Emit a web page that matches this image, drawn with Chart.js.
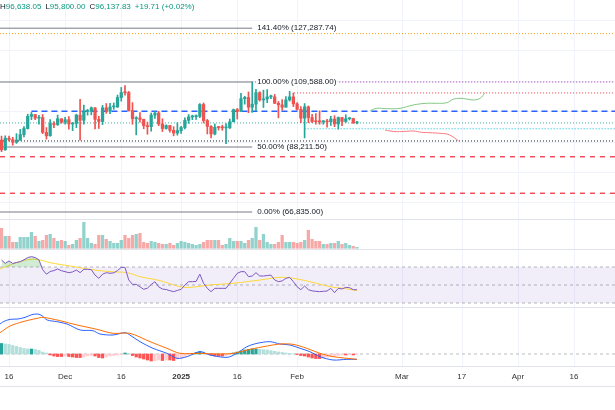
<!DOCTYPE html>
<html><head><meta charset="utf-8">
<script src="https://cdn.jsdelivr.net/npm/chart.js@4.4.1/dist/chart.umd.min.js"></script>
<style>
html,body{margin:0;padding:0;background:#fff;}
#wrap{position:relative;width:615px;height:410px;overflow:hidden;font-family:"Liberation Sans",Arial,sans-serif;background:#fff;}
canvas{position:absolute;left:0;}
.sep{position:absolute;left:0;width:615px;height:1px;background:#e0e3eb;}
#hdr{position:absolute;left:0;top:2px;font-size:8px;line-height:10px;white-space:nowrap;color:#089981;}
#hdr span{margin-right:4px;}
#hdr b{font-weight:normal;color:#131722;}
</style></head><body>
<div id="wrap">
<canvas id="cPrice" width="615" height="219" style="top:0px"></canvas>
<canvas id="cVol" width="615" height="30" style="top:219px"></canvas>
<canvas id="cRsi" width="615" height="58" style="top:249px"></canvas>
<canvas id="cMacd" width="615" height="59" style="top:307px"></canvas>
<div class="sep" style="top:219px"></div>
<div class="sep" style="top:249px"></div>
<div class="sep" style="top:307px"></div>
<div class="sep" style="top:366px"></div>
<div class="sep" style="top:386px"></div>
<canvas id="cAxis" width="615" height="24" style="top:372px"></canvas>
<div id="hdr"></div>
</div>
<script>
// ---------- DATA ----------
// day index: 0 = 16 Nov 2024; first candle = 14 Nov 2024
const startDay = -2;
const opens  = [90500,87300,91100,90600,89800,90500,92300,94300,98300,98900,97700,97900,93000,91900,95900,95600,97500,96400,97200,95800,96000,98700,97000,99900,99900,101100,97300,96600,101100,100000,101400,101400,104500,106100,106100,100200,97500,97800,97300,95200,94900,98700,99400,95800,94300,95300,93700,92800,93600,94600,97000,98100,98200,98300,102200,96900,95000,92500,94700,94600,94500,94500,96500,100500,99900,104100,104500,101300,102300,106100,103700,104000,104700,104700,102600,102100,101300,103700,104700,102400,100600,97700,101400,97900,96600,96600,96500,96500,96500,97400,95800,97900,96600,97500,97600,96118];
const highs  = [91800,91900,91800,91400,92600,94000,94900,99000,99600,98900,98600,98900,94600,97200,96600,98700,97500,98000,98200,96300,99000,103900,102000,100600,101400,101200,98300,101900,102500,102600,102700,105300,107800,108400,106500,102800,98200,99500,97400,96400,99400,99900,99900,97500,95500,95300,94900,96200,95000,97800,98900,98700,98800,102500,102700,97300,95300,95800,95000,95400,95900,97400,100700,100900,105900,104900,106300,109588,107200,106400,106900,107100,105300,105500,103200,103800,104800,106500,106000,102800,101500,102500,101700,99000,99200,100100,96900,97300,98300,98500,98100,98000,98800,97900,97700,96638];
const lows   = [86700,87100,90100,88800,89400,90400,91500,94100,97200,97200,95700,92600,90800,91800,94600,95300,96000,95700,94100,93600,94600,90500,95700,98700,98800,94200,94300,95600,99300,99200,100600,101200,103300,105300,100000,95700,92200,96400,94200,92400,93400,97600,95200,93300,94100,93100,91900,92100,92700,94200,96000,97200,97300,97900,96100,92500,91200,92200,93800,93700,89300,94300,96500,97400,99900,102300,99500,99600,100100,103300,101200,102800,104100,102500,97800,100300,101300,103300,101500,100300,96200,91200,96200,96200,95700,95700,95700,94700,95300,94900,94100,95200,96300,97100,96000,95800];
const closes = [87300,91100,90600,89800,90500,92300,94300,98300,98900,97700,97900,93000,91900,95900,95600,97500,96400,97200,95800,96000,98700,97000,99900,99950,101100,97300,96600,101100,100000,101400,101450,104500,106100,106050,100200,97500,97800,97300,95200,94900,98700,99400,95800,94300,95300,93700,92800,93600,94600,97000,98100,98200,98300,102200,96900,95000,92500,94700,94600,94500,94550,96500,100500,99900,104100,104500,101300,102300,106100,103700,104000,104700,104750,102600,102100,101300,103700,104700,102400,100600,97700,101400,97900,96600,96500,96500,96550,96450,97400,95800,97900,96600,97500,97600,96100,96137.83];
const volumes = [20,12,12,6,6,11,11,11,16,12,7,8,13,14,10,7,8,7,3,4,8,10,26,10,5,4,13,13,9,7,5,5,8,13,10,13,14,15,6,5,7,6,5,4,4,5,3,5,7,6,5,4,3,4,6,8,8,8,8,3,4,10,7,7,7,5,8,10,21,8,14,6,4,4,6,13,6,6,6,5,6,8,18,9,7,7,4,4,5,5,7,4,5,3,2,1];

// Fibonacci retracement (anchored on the 20 Jan high)
const fibPercents = [141.4, 100, 50, 0];
const fibPrices   = [127287.74, 109588.00, 88211.50, 66835.00];
const fibEndDay   = 65;

// horizontal levels
const levelPrices    = [125500, 109588, 106000, 100000, 96137.83, 94200, 90200, 85000, 73000];
const levelStartDays = [-2.41, 65, 76.2, 6, -2.41, 79, -2.41, -2.41, -2.41];

// projection paths
const upPathDays    = [96.5, 98.3, 100.9, 104.5, 108.0, 111.6, 114.3, 117.0, 118.7, 120.5, 122.3, 124.1, 125.9, 127.2];
const upPathPrices  = [100150, 100940, 100810, 100940, 102030, 102590, 102590, 102780, 103900, 104230, 104000, 103670, 104230, 106070];
const downPathDays  = [100.5, 101.8, 103.6, 106.3, 108.0, 110.3, 112.5, 115.2, 117.0, 118.3, 119.2, 120.1];
const downPathPrices= [93800, 93480, 93250, 93380, 93480, 93050, 92920, 92720, 92490, 91830, 91080, 90290];

// RSI (per candle) and its moving average
const rsi = [77.8,74,76.7,74,75,76,78,80.5,81.5,80.5,78,67,62,65,66,67.8,65.9,64.8,63.7,64.5,66.7,63.7,67.4,67.4,67,61,57.4,62,63.7,63,63.5,66,69.6,69.6,55.6,50.7,50.7,48,45.2,46.5,50.5,53.7,48,45.5,45,43.7,42.6,44,45.2,50,53.7,53.7,54,62,51.9,46.3,42.6,46.3,46.3,46.3,46.3,51.9,57.4,63,64.8,64.8,59.3,60,63.7,60,60,60.5,61,55.6,53.7,54.5,57.4,58.5,53.7,48,44.8,48.9,44.8,43.5,43,42.6,43,43.3,46.3,41.5,46.3,45.6,47.4,47,44.8,44.8];
const rsiMaDays   = [-2.4, 0.3, 2.9, 5.6, 8.3, 11, 16.3, 21.6, 27, 31.5, 35, 40.4, 45.7, 48.4, 53.7, 59.9, 67.1, 72.4, 75.9, 80.4, 85.8, 89.3, 93];
const rsiMaValues = [67.8, 72.2, 75.9, 78.5, 77.8, 74.8, 71.1, 67.4, 64.8, 63.7, 59.3, 54.8, 48.1, 47.4, 50, 51.9, 55.6, 58.5, 57.4, 53.7, 48.1, 46.3, 43.7];
const rsiLevels = [70, 50, 30];

// MACD
const macdDays   = [-2.4,-1.5,0.3,2.4,4.3,6.1,7.7,8.8,10.2,12.8,15.5,19,22.4,24.3,27.8,31,32.3,35,38.5,42.2,44.9,47.6,51,53.7,58.3,60.9,63.6,66.3,69.7,72.4,75.1,77.8,80.4,83.1,86.6,90.3,93];
const macdValues = [4500,4850,5200,5250,5500,5900,6000,5750,5100,4850,4500,3600,3500,3000,2850,3200,2850,1850,850,100,-650,-400,350,-150,-500,100,1100,1600,1850,1500,1350,850,350,-400,-900,-800,-800];
const signalDays   = [-2.4,0.3,3.7,7.5,9.1,13.6,18.2,23.5,27.8,32.3,37.7,42.2,45.7,51,55.6,59.9,64.4,69,72.4,75.9,79.6,83.1,86.6,93];
const signalValues = [3200,4200,4850,5350,5500,5000,4350,3700,3100,3100,1850,850,100,100,0,100,700,1200,1500,1450,850,100,-400,-800];
const histogram = [1580,1500,1430,1280,1130,980,830,750,750,680,530,300,150,-150,-300,-380,-380,-300,-380,-450,-530,-530,-450,-300,-230,-300,-530,-600,-450,-300,-230,-150,-80,150,80,-230,-450,-600,-750,-900,-1050,-980,-900,-980,-900,-900,-980,-750,-600,-380,-150,80,230,380,300,80,-150,-300,-300,-300,-230,-80,150,300,450,600,700,750,750,700,650,600,500,400,300,230,150,100,50,-80,-230,-300,-450,-600,-680,-680,-600,-450,-380,-300,-230,-150,-150,-80,-150,-80];

// time axis
const tickDays   = [0, 15, 30, 46, 61, 77, 105, 121, 136, 151];
const tickLabels = ['16', 'Dec', '16', '2025', '16', 'Feb', 'Mar', '17', 'Apr', '16'];
const priceGrid  = [70000, 80000, 90000, 100000, 110000, 120000, 130000];

// header
const hdrKeys   = ['H', 'L', 'C'];
const hdrValues = ['96,638.05', '95,800.00', '96,137.83'];
const hdrChange = '+19.71 (+0.02%)';

// ---------- STYLE / LAYOUT ----------
const X_MIN = -2.405, X_MAX = 161.95;
const FONT = '"Liberation Sans", Arial, sans-serif';
const UP = '#26a69a', DOWN = '#ef5350';
const levelStyles = [
  {color:'#ff9800', dash:[1,2], width:1},
  {color:'#9c27b0', dash:[1,2], width:1},
  {color:'#f23645', dash:[1,2], width:1},
  {color:'#2962ff', dash:[6,4], width:1.5},
  {color:'#089981', dash:[1,2], width:0.8},
  {color:'#00bcd4', dash:[1,2], width:1},
  {color:'#131722', dash:[1,2], width:1},
  {color:'#f23645', dash:[5,5], width:1.3},
  {color:'#f23645', dash:[5,5], width:1.3}
];

// header text
const hdr = document.getElementById('hdr');
hdrKeys.forEach((k, i) => { const s = document.createElement('span'); s.innerHTML = '<b>' + k + '</b>' + hdrValues[i]; hdr.appendChild(s); });
const ch = document.createElement('span'); ch.textContent = hdrChange; hdr.appendChild(ch);

const gridPlugin = {
  id: 'paneGrid',
  beforeDatasetsDraw(chart, args, opts) {
    const {ctx, chartArea: a, scales: {x, y}} = chart;
    ctx.save(); ctx.strokeStyle = '#f0f3fa'; ctx.lineWidth = 1;
    tickDays.forEach(d => { const px = Math.round(x.getPixelForValue(d)) + 0.5; ctx.beginPath(); ctx.moveTo(px, a.top); ctx.lineTo(px, a.bottom); ctx.stroke(); });
    (opts.h || []).forEach(v => { const py = Math.round(y.getPixelForValue(v)) + 0.5; ctx.beginPath(); ctx.moveTo(a.left, py); ctx.lineTo(a.right, py); ctx.stroke(); });
    ctx.restore();
  }
};
const fibLabelPlugin = {
  id: 'fibLabels',
  afterDatasetsDraw(chart) {
    const {ctx, scales: {x, y}} = chart;
    ctx.save(); ctx.font = '8px ' + FONT; ctx.textBaseline = 'middle';
    fibPercents.forEach((p, i) => {
      const txt = p.toFixed(2) + '% (' + fibPrices[i].toLocaleString('en-US', {minimumFractionDigits: 2, maximumFractionDigits: 2}) + ')';
      const px = x.getPixelForValue(fibEndDay) + 5, py = y.getPixelForValue(fibPrices[i]);
      const w = ctx.measureText(txt).width;
      ctx.fillStyle = '#fff'; ctx.fillRect(px - 1, py - 4, w + 2, 8);
      ctx.fillStyle = '#131722'; ctx.fillText(txt, px, py);
    });
    ctx.restore();
  }
};

function baseOptions(yMin, yMax, hGrid) {
  return {
    responsive: false, animation: false, devicePixelRatio: 1, events: [],
    layout: {padding: 0},
    plugins: {legend: {display: false}, tooltip: {enabled: false}, paneGrid: {h: hGrid || []}},
    scales: {
      x: {type: 'linear', min: X_MIN, max: X_MAX, display: false, offset: false},
      y: {type: 'linear', min: yMin, max: yMax, display: false}
    }
  };
}
const hline = (v, from, to) => [{x: from, y: v}, {x: to, y: v}];
const candleColors = opens.map((o, i) => closes[i] >= o ? UP : DOWN);

// ---------- PRICE ----------
const priceDatasets = [];
fibPrices.forEach(p => priceDatasets.push({type: 'line', data: hline(p, X_MIN, fibEndDay), borderColor: '#787b86', borderWidth: 1, pointRadius: 0, order: 20}));
levelPrices.forEach((p, i) => priceDatasets.push({type: 'line', data: hline(p, levelStartDays[i], X_MAX), borderColor: levelStyles[i].color, borderDash: levelStyles[i].dash, borderWidth: levelStyles[i].width, pointRadius: 0, order: 15}));
priceDatasets.push({type: 'line', data: upPathDays.map((d, i) => ({x: d, y: upPathPrices[i]})), borderColor: '#81c784', borderWidth: 1, pointRadius: 0, tension: 0.4, order: 10});
priceDatasets.push({type: 'line', data: downPathDays.map((d, i) => ({x: d, y: downPathPrices[i]})), borderColor: '#f77c80', borderWidth: 1, pointRadius: 0, tension: 0.4, order: 10});
priceDatasets.push({type: 'bar', data: opens.map((o, i) => ({x: startDay + i, y: [lows[i], highs[i]]})), backgroundColor: candleColors, barThickness: 1, grouped: false, order: 5});
priceDatasets.push({type: 'bar', data: opens.map((o, i) => ({x: startDay + i, y: [o, closes[i]]})), backgroundColor: candleColors, barThickness: 2.6, minBarLength: 1, grouped: false, order: 1});
new Chart(document.getElementById('cPrice'), {
  type: 'bar', data: {datasets: priceDatasets},
  options: baseOptions(64532.7, 136562.7, priceGrid), plugins: [gridPlugin, fibLabelPlugin]
});

// ---------- VOLUME ----------
new Chart(document.getElementById('cVol'), {
  type: 'bar',
  data: {datasets: [{data: volumes.map((v, i) => ({x: startDay + i, y: v})), backgroundColor: candleColors.map(c => c === UP ? 'rgba(38,166,154,0.5)' : 'rgba(239,83,80,0.5)'), barThickness: 2.6}]},
  options: baseOptions(-0.7, 29.3), plugins: [gridPlugin]
});

// ---------- RSI ----------
const rsiLvlSets = rsiLevels.map((v, i) => ({type: 'line', data: hline(v, X_MIN, X_MAX), borderColor: 'rgba(120,123,134,0.55)', borderDash: [3, 3], borderWidth: 1, pointRadius: 0,
  fill: i === 0 ? {target: 2} : false, backgroundColor: 'rgba(126,87,194,0.1)', order: 10}));
new Chart(document.getElementById('cRsi'), {
  type: 'line',
  data: {datasets: rsiLvlSets.concat([
    {data: rsi.map((v, i) => ({x: startDay + i, y: v})), borderColor: '#7e57c2', borderWidth: 1, pointRadius: 0, fill: {target: {value: 70}, above: 'rgba(76,175,80,0.25)', below: 'transparent'}, order: 1},
    {data: rsiMaDays.map((d, i) => ({x: d, y: rsiMaValues[i]})), borderColor: '#fdd835', borderWidth: 1, pointRadius: 0, tension: 0.4, order: 2}
  ])},
  options: baseOptions(25.56, 90), plugins: [gridPlugin]
});

// ---------- MACD ----------
const histColors = histogram.map((v, i) => {
  const prev = i > 0 ? histogram[i - 1] : v;
  if (v >= 0) return v >= prev ? '#26a69a' : '#b2dfdb';
  return v <= prev ? '#ff5252' : '#ffcdd2';
});
new Chart(document.getElementById('cMacd'), {
  type: 'bar',
  data: {datasets: [
    {type: 'line', data: hline(0, X_MIN, X_MAX), borderColor: 'rgba(120,123,134,0.5)', borderDash: [3, 3], borderWidth: 1, pointRadius: 0, order: 20},
    {type: 'bar', data: histogram.map((v, i) => ({x: startDay + i, y: v})), backgroundColor: histColors, barThickness: 2.6, order: 10},
    {type: 'line', data: macdDays.map((d, i) => ({x: d, y: macdValues[i]})), borderColor: '#2962ff', borderWidth: 1, pointRadius: 0, tension: 0.3, order: 2},
    {type: 'line', data: signalDays.map((d, i) => ({x: d, y: signalValues[i]})), borderColor: '#ff6d00', borderWidth: 1, pointRadius: 0, tension: 0.3, order: 1}
  ]},
  options: baseOptions(-1800, 7050), plugins: [gridPlugin]
});

// ---------- TIME AXIS ----------
new Chart(document.getElementById('cAxis'), {
  type: 'line', data: {datasets: [{data: []}]},
  options: {
    responsive: false, animation: false, devicePixelRatio: 1, events: [], layout: {padding: 0},
    plugins: {legend: {display: false}, tooltip: {enabled: false}},
    scales: {
      x: {type: 'linear', min: X_MIN, max: X_MAX, offset: false, position: 'top',
          grid: {display: false, drawTicks: false}, border: {display: false},
          afterBuildTicks: s => { s.ticks = tickDays.map(v => ({value: v})); },
          ticks: {autoSkip: false, maxRotation: 0, minRotation: 0, padding: 0, color: '#333',
                  callback: v => tickLabels[tickDays.indexOf(v)],
                  font: c => ({family: FONT, size: 8, weight: (c.tick && c.tick.label === '2025') ? 'bold' : 'normal'})}},
      y: {display: false}
    }
  }
});
</script>
</body></html>
